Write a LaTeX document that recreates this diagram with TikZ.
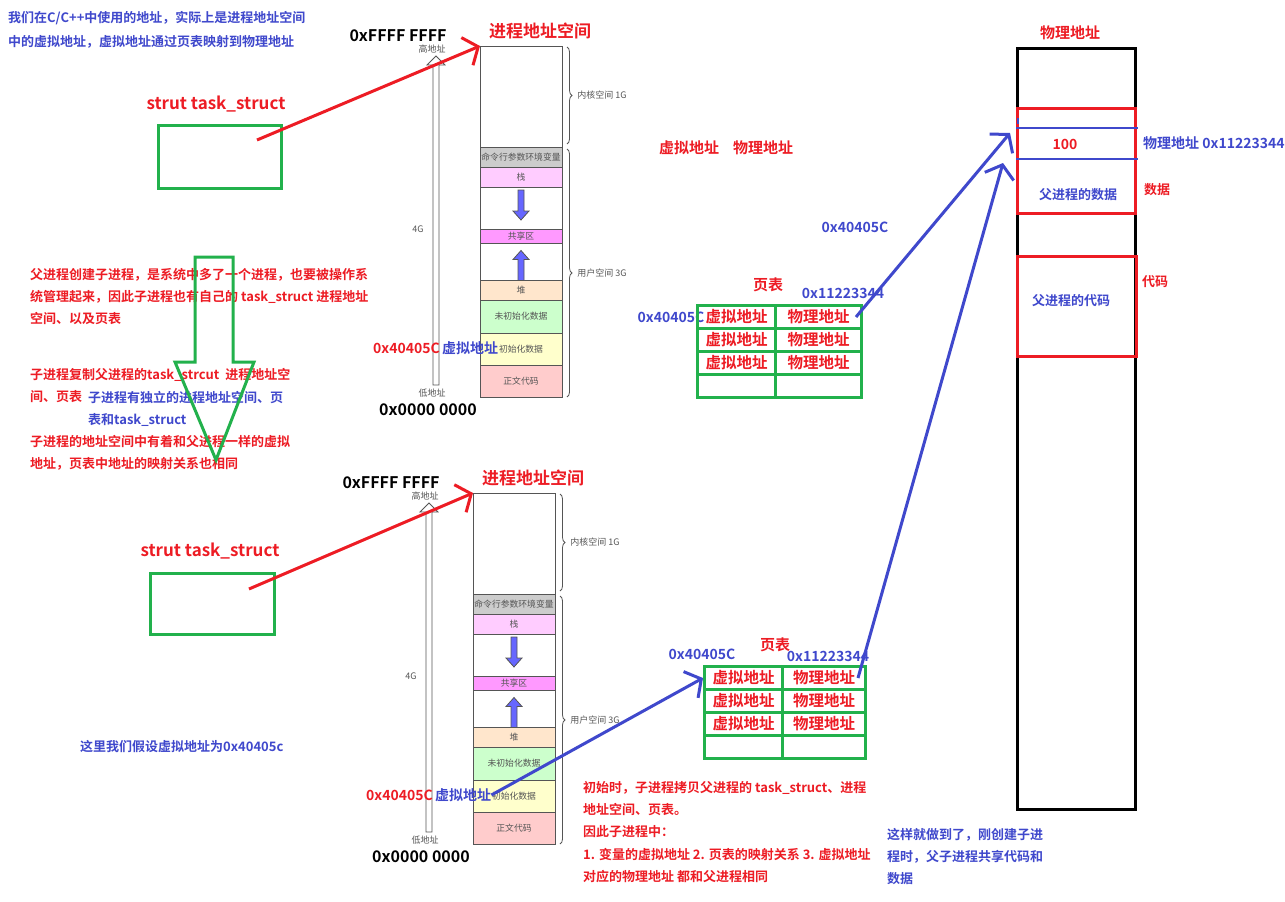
\documentclass[tikz,border=0pt]{standalone}
\usepackage{fontspec}
\setmainfont{Noto Sans CJK SC}[BoldFont={Noto Sans CJK SC Bold}]
\usetikzlibrary{arrows.meta,positioning,decorations.pathreplacing}

\definecolor{pred}{HTML}{ED1C24}
\definecolor{pblue}{HTML}{3F48CC}
\definecolor{pgreen}{HTML}{22B14C}
\definecolor{segline}{HTML}{555555}
\definecolor{cmdfill}{HTML}{CCCCCC}
\definecolor{stkfill}{HTML}{FFCCFF}
\definecolor{shmfill}{HTML}{FF99FF}
\definecolor{heapfill}{HTML}{FFE6CC}
\definecolor{bssfill}{HTML}{CCFFCC}
\definecolor{datfill}{HTML}{FFFFCC}
\definecolor{txtfill}{HTML}{FFCCCC}
\definecolor{arrfill}{HTML}{6666FF}

\newcommand{\pxfont}[1]{\fontsize{#1}{#1}\selectfont}

\tikzset{
  seg/.style={draw=segline, line width=1, minimum width=82, inner sep=0, outer sep=0,
    font=\pxfont{8.8}, text=segline},
  small/.style={text=segline, font=\pxfont{9}, inner sep=0},
  hexb/.style={text=black, font=\bfseries\pxfont{16}, inner sep=0},
  ttl/.style={text=pred, font=\bfseries\pxfont{17}, inner sep=0},
  rlab/.style={text=pred, font=\bfseries\pxfont{14}, inner sep=0},
  blab/.style={text=pblue, font=\bfseries\pxfont{14}, inner sep=0},
  rpara/.style={text=pred, font=\bfseries\fontsize{13}{22.3}\selectfont, align=left,
    anchor=north west, inner sep=0},
  bpara/.style={text=pblue, font=\bfseries\fontsize{13}{22.3}\selectfont, align=left,
    anchor=north west, inner sep=0},
  gbox/.style={draw=pgreen, line width=3, inner sep=0, anchor=north west},
  rbox/.style={draw=pred, line width=3, inner sep=0, anchor=north west},
  cell/.style={draw=pgreen, line width=3, minimum height=23, inner sep=0, anchor=north west,
    text=pred, font=\bfseries\pxfont{15.5}},
  brc/.style={decorate, decoration={brace, amplitude=5pt}, draw=segline, line width=0.8},
  redarr/.style={draw=pred, line width=3, -{Straight Barb[length=12pt,width=30pt]}},
  bluearr/.style={draw=pblue, line width=3, -{Straight Barb[length=12pt,width=30pt]}},
  bline/.style={draw=pblue, line width=2.5},
  hollowarr/.style={draw=segline, fill=white, line width=0.8},
  blockarr/.pic={
    \draw[draw=segline, fill=arrfill, line width=0.8]
      (-3,-15) -- (3,-15) -- (3,6) -- (8,6) -- (0,15) -- (-8,6) -- (-3,6) -- cycle;
  }
}

% one process address space, #1 = name prefix, #2 = top left corner
\newcommand{\addrspace}[2]{%
\begin{scope}[shift={#2}]
  \node[seg, minimum height=101, anchor=north west] (#1kern) at (0,0) {};
  \node[seg, minimum height=20, fill=cmdfill, below=of #1kern] (#1cmd) {命令行参数环境变量};
  \node[seg, minimum height=20, fill=stkfill, below=of #1cmd] (#1stk) {栈};
  \node[seg, minimum height=42, below=of #1stk] (#1gapA) {};
  \node[seg, minimum height=14, fill=shmfill, below=of #1gapA] (#1shm) {共享区};
  \node[seg, minimum height=37, below=of #1shm] (#1gapB) {};
  \node[seg, minimum height=20, fill=heapfill, below=of #1gapB] (#1heap) {堆};
  \node[seg, minimum height=33, fill=bssfill, below=of #1heap] (#1bss) {未初始化数据};
  \node[seg, minimum height=32, fill=datfill, below=of #1bss] (#1dat) {初始化数据};
  \node[seg, minimum height=32, fill=txtfill, below=of #1dat] (#1text) {正文代码};
  \pic at ([yshift=3]#1gapA.center) {blockarr};
  \pic[rotate=180] at ([yshift=-4]#1gapB.center) {blockarr};
  % address axis
  \draw[hollowarr] (-47,339) -- (-47,19) -- (-53,19) -- (-44,10) -- (-35,19)
    -- (-41,19) -- (-41,339) -- cycle;
  \node[small] (#1hi) at (-48,3) {高地址};
  \node[small] (#1lo) at (-48,347) {低地址};
  \node[small] (#1sz) at (-62,183) {4G};
  \node[hexb] (#1top) at (-82,-10) {0xFFFF FFFF};
  \node[hexb] (#1bot) at (-52,364) {0x0000 0000};
  \node[ttl] (#1ttl) at (60,-15) {进程地址空间};
  \node[rlab, anchor=east] (#1hex) at (-40,302) {0x40405C};
  \node[blab, anchor=west] (#1va) at (-38,302) {虚拟地址};
  % braces
  \draw[brc] ([xshift=5,yshift=-1]#1kern.north east) -- ([xshift=5,yshift=3]#1kern.south east)
    node[small, midway, right=10pt] {内核空间 1G};
  \draw[brc] ([xshift=5,yshift=-2]#1cmd.north east) -- ([xshift=5]#1text.south east)
    node[small, midway, right=10pt] {用户空间 3G};
\end{scope}}

\begin{document}
\begin{tikzpicture}[x=1pt, y=-1pt, node distance=0pt]
\path[use as bounding box, fill=white] (0,0) rectangle (1285,902);

% notes on the left
\node[bpara, font=\bfseries\fontsize{13}{24}\selectfont] (intro) at (8,11)
  {我们在C/C++中使用的地址，实际上是进程地址空间\\中的虚拟地址，虚拟地址通过页表映射到物理地址};
\node[rpara] (note1) at (30,268)
  {父进程创建子进程，是系统中多了一个进程，也要被操作系\\统管理起来，因此子进程也有自己的 task\_struct 进程地址\\空间、以及页表};
\node[rpara] (note2) at (30,368) {子进程复制父进程的task\_strcut~~进程地址空\\间、页表};
\node[bpara] (note3) at (88,391) {子进程有独立的进程地址空间、页\\表和task\_struct};
\node[rpara] (note4) at (30,435) {子进程的地址空间中有着和父进程一样的虚拟\\地址，页表中地址的映射关系也相同};
\node[bpara] (note5) at (80,740) {这里我们假设虚拟地址为0x40405c};

% fork arrow
\draw[draw=pgreen, line width=3] (195,257) -- (233,257) -- (233,362) -- (254,362)
  -- (216,460) -- (175,362) -- (195,362) -- cycle;

% parent task_struct
\node[ttl] (Aname) at (216,104) {strut task\_struct};
\node[gbox, minimum width=123, minimum height=63] (Atask) at (157,124) {};
\coordinate (Aptr) at (257,140);
\addrspace{A}{(480,46)}
\draw[redarr] (Aptr) -- (Akern.north west);

% child task_struct
\node[ttl] (Bname) at (210,551) {strut task\_struct};
\node[gbox, minimum width=124, minimum height=61] (Btask) at (149,572) {};
\coordinate (Bptr) at (249,589);
\addrspace{B}{(473,493)}
\draw[redarr] (Bptr) -- (Bkern.north west);

% parent page table
\node[rlab, font=\bfseries\pxfont{15}] (vhead) at (689,148) {虚拟地址};
\node[rlab, font=\bfseries\pxfont{15}] (phead) at (763,148) {物理地址};
\node[blab] (Avhex) at (855,227) {0x40405C};
\node[rlab, font=\bfseries\pxfont{15}] (Apt) at (768,285) {页表};
\node[blab] (Aphex) at (843,293) {0x11223344};
\node[blab] (Avhex2) at (671,317) {0x40405C};
\foreach \r/\v/\p in {1/虚拟地址/物理地址, 2/虚拟地址/物理地址, 3/虚拟地址/物理地址, 4/{}/{}} {
  \node[cell, minimum width=78] (Av\r) at (696,{304+23*(\r-1)}) {\v};
  \node[cell, minimum width=86] (Ap\r) at (774,{304+23*(\r-1)}) {\p};
}

% child page table
\node[rlab, font=\bfseries\pxfont{15}] (Bpt) at (775,645) {页表};
\node[blab] (Bvhex) at (702,654) {0x40405C};
\node[blab] (Bphex) at (828,656) {0x11223344};
\foreach \r/\v/\p in {1/虚拟地址/物理地址, 2/虚拟地址/物理地址, 3/虚拟地址/物理地址, 4/{}/{}} {
  \node[cell, minimum width=78] (Bv\r) at (703,{665+23*(\r-1)}) {\v};
  \node[cell, minimum width=83] (Bp\r) at (781,{665+23*(\r-1)}) {\p};
}

% physical memory
\node[ttl, font=\bfseries\pxfont{15}] (pname) at (1070,33) {物理地址};
\node[draw=black, line width=3, inner sep=0, anchor=north west, minimum width=118,
  minimum height=761] (pmem) at (1016,47) {};
\node[rbox, minimum width=118, minimum height=105] (pdata) at (1016,107) {};
\node[rbox, minimum width=119, minimum height=100] (pcode) at (1016,255) {};
\node[inner sep=0, anchor=west, minimum width=122, minimum height=31] (pval) at (1016,143.5) {};
\draw[bline] (pval.north west) -- (pval.north east);
\draw[bline] (pval.south west) -- (pval.south east);
\draw[draw=pblue, line width=2] (1018,118) -- (1018,124);
\node[rlab] (val) at (1065,144) {100};
\node[blab, anchor=west] (paddr) at (1143,143) {物理地址 0x11223344};
\node[blab, font=\bfseries\pxfont{13}] (pdtxt) at (1078,195) {父进程的数据};
\node[rlab, font=\bfseries\pxfont{13}] (pdlab) at (1157,190) {数据};
\node[blab, font=\bfseries\pxfont{13}] (pctxt) at (1071,301) {父进程的代码};
\node[rlab, font=\bfseries\pxfont{13}] (pclab) at (1155,282) {代码};
\coordinate (pin1) at (1010,133);
\coordinate (pin2) at (1003,163);

% mappings
\draw[bluearr] ([xshift=-7]Ap1.east) -- (pin1);
\draw[bluearr] ([xshift=-9]Bp1.east) -- (pin2);
\draw[bluearr] (Bva.east) -- (Bv1.west);

% notes at the bottom
\node[rpara] (note6) at (583,781)
  {初始时，子进程拷贝父进程的 task\_struct、进程\\地址空间、页表。\\因此子进程中：\\1. 变量的虚拟地址 2. 页表的映射关系 3. 虚拟地址\\对应的物理地址 都和父进程相同};
\node[bpara] (note7) at (887,828) {这样就做到了，刚创建子进\\程时，父子进程共享代码和\\数据};
\end{tikzpicture}
\end{document}
